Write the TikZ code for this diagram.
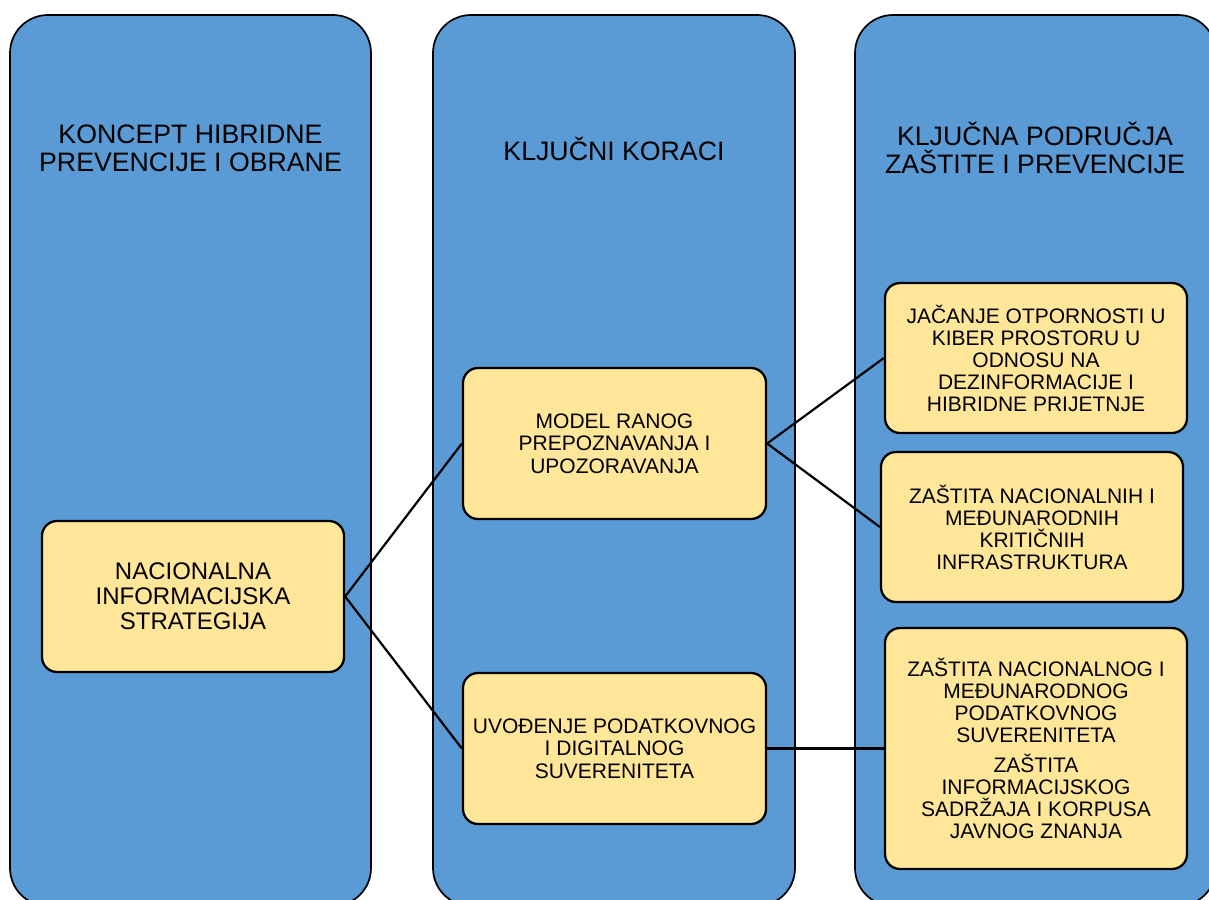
\documentclass[tikz,border=0pt]{standalone}
\usepackage{fontspec}
\setmainfont{Liberation Sans}
\definecolor{colblue}{HTML}{5B9BD5}
\definecolor{boxyellow}{HTML}{FFE699}
\begin{document}
\begin{tikzpicture}[x=1pt,y=-1pt,
  column/.style={draw=black, line width=1.7pt, fill=colblue, rounded corners=38pt},
  header/.style={align=center, inner sep=0pt, font=\fontsize{26.7}{28}\selectfont},
  bigbox/.style={draw=black, line width=2.3pt, fill=boxyellow, rounded corners=15pt, align=center, minimum width=302pt, minimum height=151pt, inner sep=0pt, font=\fontsize{24}{25}\selectfont},
  midbox/.style={bigbox, font=\fontsize{21}{22.5}\selectfont},
  rightbox/.style={bigbox, minimum height=150pt, font=\fontsize{21}{22}\selectfont},
  link/.style={line width=2.2pt}]
\useasboundingbox (0,0) rectangle (1209,899);
\clip (0,0) rectangle (1209,899);
% columns
\draw[column] (10,15) rectangle (371,906);
\draw[column] (433,15) rectangle (795,906);
\draw[column] (855,15) rectangle (1216,906);
% headers
\node[header] (h1) at (190.5,148) {KONCEPT HIBRIDNE\\PREVENCIJE I OBRANE};
\node[header] (h2) at (614,149) {KLJUČNI KORACI};
\node[header] (h3) at (1035,148) {KLJUČNA PODRUČJA\\ZAŠTITE I PREVENCIJE};
% boxes
\node[bigbox] (nis) at (193,596.5) {NACIONALNA\\INFORMACIJSKA\\STRATEGIJA};
\node[midbox, minimum width=303pt] (mrp) at (614.5,443.5) {MODEL RANOG\\PREPOZNAVANJA I\\UPOZORAVANJA};
\node[midbox, minimum width=303pt] (upd) at (614.5,748.5) {UVOĐENJE PODATKOVNOG\\I DIGITALNOG\\SUVERENITETA};
\node[rightbox] (r1) at (1036,358) {JAČANJE OTPORNOSTI U\\KIBER PROSTORU U\\ODNOSU NA\\DEZINFORMACIJE I\\HIBRIDNE PRIJETNJE};
\node[rightbox] (r2) at (1032,527) {ZAŠTITA NACIONALNIH I\\MEĐUNARODNIH\\KRITIČNIH\\INFRASTRUKTURA};
\node[rightbox, minimum height=241pt] (r3) at (1036,748.5) {ZAŠTITA NACIONALNOG I\\MEĐUNARODNOG\\PODATKOVNOG\\SUVERENITETA\\[8pt]ZAŠTITA\\INFORMACIJSKOG\\SADRŽAJA I KORPUSA\\JAVNOG ZNANJA};
% connectors
\draw[link] (nis.east) -- (mrp.west);
\draw[link] (nis.east) -- (upd.west);
\draw[link] (mrp.east) -- (r1.west);
\draw[link] (mrp.east) -- (r2.west);
\draw[link] (upd.east) -- (r3.west);
\end{tikzpicture}
\end{document}
